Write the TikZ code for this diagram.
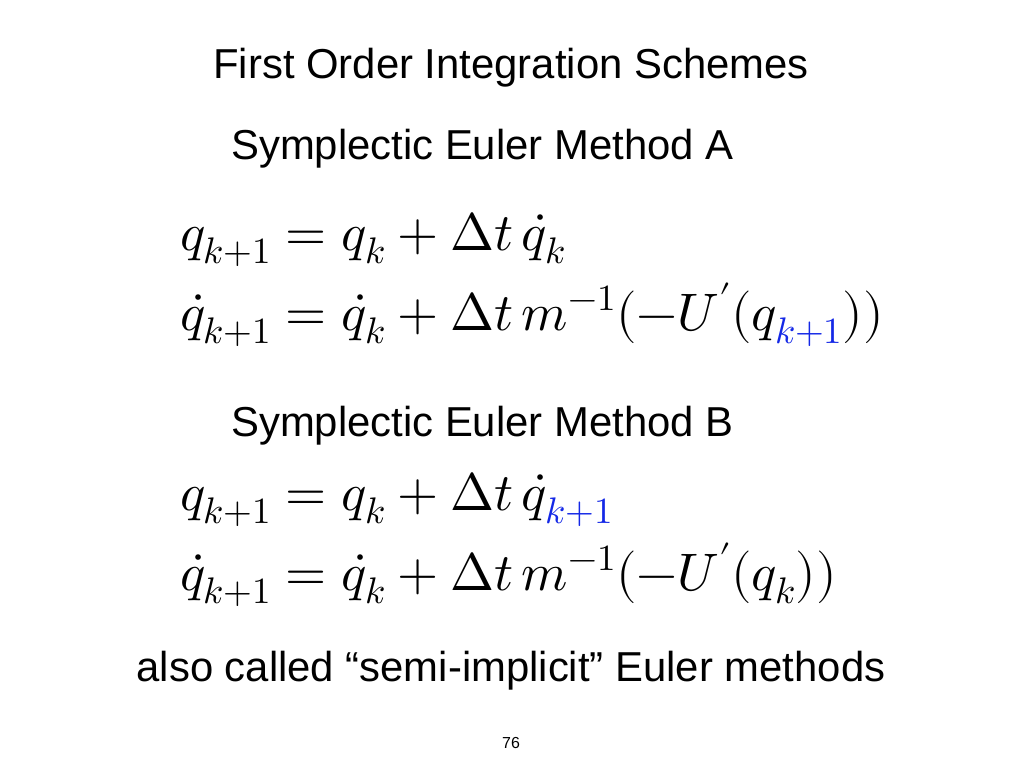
\documentclass[tikz,border=0pt]{standalone}
\usepackage{amsmath}
\usepackage{unicode-math}
\setmainfont{Liberation Sans}
\setmathfont{Latin Modern Math}
\definecolor{eqblue}{RGB}{20,40,230}
\begin{document}
\begin{tikzpicture}[x=1bp,y=-1bp,
  head/.style={anchor=base,font=\fontsize{42}{48}\selectfont,inner sep=0},
  eq/.style={anchor=base west,font=\fontsize{53}{60}\selectfont,inner sep=0}]
\useasboundingbox (0,0) rectangle (1024,768);
\node[head] (t) at (511,79) {First Order Integration Schemes};
\node[head,anchor=base west] (ha) at (231,159) {Symplectic Euler Method A};
\node[eq] (e1) at (180,250) {$q_{k+1}=q_k+\Delta t\,\dot q_k$};
\node[eq] (e2) at (180,330) {$\dot q_{k+1}=\dot q_k+\Delta t\,m^{-1}(-U'(q_{\textcolor{eqblue}{k+1}}))$};
\node[head,anchor=base west] (hb) at (231,436) {Symplectic Euler Method B};
\node[eq] (e3) at (180,510) {$q_{k+1}=q_k+\Delta t\,\dot q_{\textcolor{eqblue}{k+1}}$};
\node[eq] (e4) at (180,590) {$\dot q_{k+1}=\dot q_k+\Delta t\,m^{-1}(-U'(q_k))$};
\node[head] (f) at (511,681) {also called “semi-implicit” Euler methods};
\node[anchor=base,font=\fontsize{16}{18}\selectfont,inner sep=0] (n) at (511,748) {76};
\end{tikzpicture}
\end{document}
